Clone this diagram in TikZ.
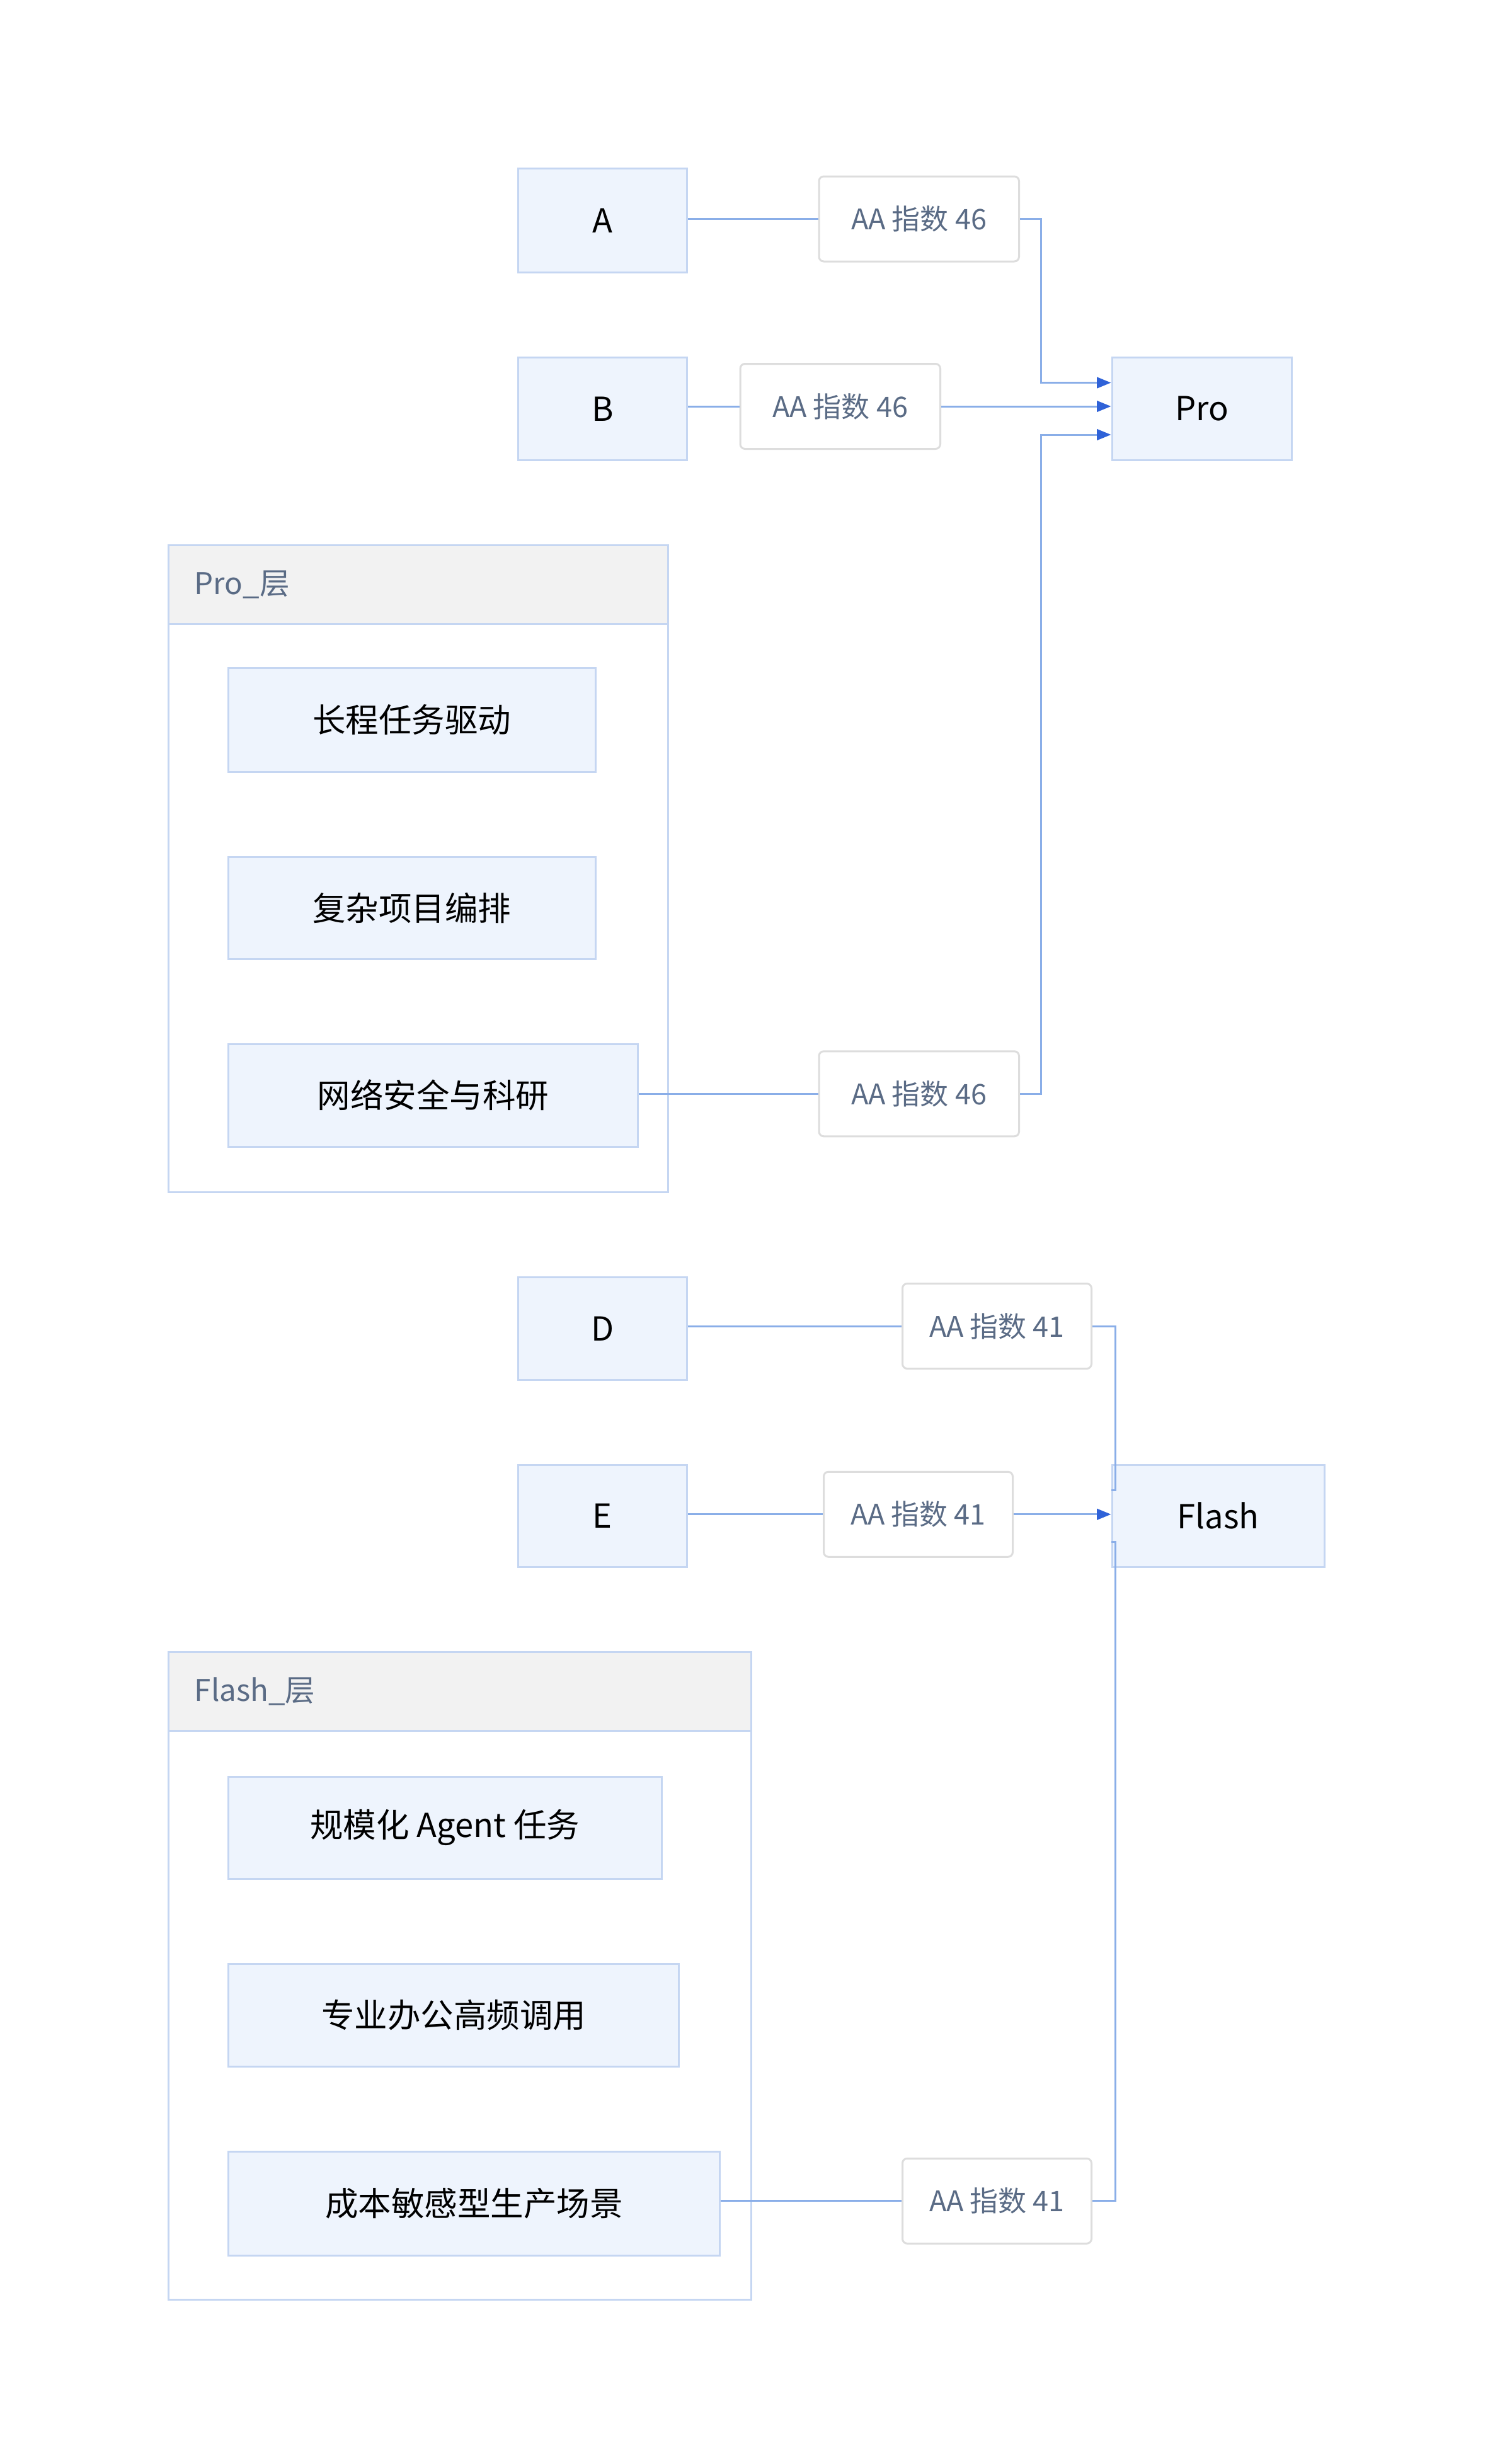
\documentclass[tikz,border=0pt]{standalone}
\usepackage{fontspec}
\setmainfont{Noto Sans CJK SC}
\usetikzlibrary{arrows.meta}
\definecolor{nfill}{HTML}{EEF4FD}
\definecolor{nline}{HTML}{C5D6F2}
\definecolor{eline}{HTML}{8AAEE8}
\definecolor{ahead}{HTML}{2F62D8}
\definecolor{lbl}{HTML}{5A6B85}
\definecolor{lbox}{HTML}{DDDDDD}
\definecolor{hdr}{HTML}{F2F2F2}
\begin{document}
\begin{tikzpicture}[x=1pt,y=-1pt,
  nd/.style={draw=nline,fill=nfill,line width=1.2pt,font=\fontsize{21}{24}\selectfont,text=black},
  lb/.style={draw=lbox,fill=white,rounded corners=3pt,line width=1.2pt,font=\fontsize{18}{22}\selectfont,text=lbl},
  ct/.style={draw=nline,fill=white,line width=1.2pt},
  hd/.style={draw=nline,fill=hdr,line width=1.2pt},
  ht/.style={font=\fontsize{19}{22}\selectfont,text=lbl,anchor=west},
  ed/.style={draw=eline,line width=1.2pt},
  ar/.style={ed,-{Triangle[length=9pt,width=7pt,fill=ahead,color=ahead]}}]
\useasboundingbox (0,0) rectangle (960,1548);
\fill[white] (0,0) rectangle (960,1548);
% containers
\draw[ct] (107,346) rectangle (424,757);
\draw[hd] (107,346) rectangle (424,396);
\node[ht] (proh) at (120,371) {Pro\_层};
\draw[ct] (107,1049) rectangle (477,1460);
\draw[hd] (107,1049) rectangle (477,1099);
\node[ht] (flh) at (120,1074) {Flash\_层};
% nodes
\newcommand\bx[6]{\node[nd,minimum width=#4pt,minimum height=#5pt,inner sep=0pt] (#1) at (#2,#3) {#6};}
\bx{A}{382.5}{140}{107}{66}{A}
\bx{B}{382.5}{259.5}{107}{65}{B}
\bx{Pro}{763}{259.5}{114}{65}{Pro}
\bx{p1}{261.5}{457}{233}{66}{长程任务驱动}
\bx{p2}{261.5}{576.5}{233}{65}{复杂项目编排}
\bx{p3}{275}{695.5}{260}{65}{网络安全与科研}
\bx{D}{382.5}{843.5}{107}{65}{D}
\bx{E}{382.5}{962.5}{107}{65}{E}
\bx{Fl}{773.5}{962.5}{135}{65}{Flash}
\bx{f1}{282.5}{1160.5}{275}{65}{规模化 Agent 任务}
\bx{f2}{288}{1279.5}{286}{65}{专业办公高频调用}
\bx{f3}{301}{1399}{312}{66}{成本敏感型生产场景}
% labels
\newcommand\lbx[5]{\node[lb,minimum width=#4pt,minimum height=54pt,inner sep=0pt] (#1) at (#2,#3) {#5};}
\lbx{l1}{583.5}{139}{127}{AA 指数 46}
\lbx{l2}{533.5}{258}{127}{AA 指数 46}
\lbx{l3}{583.5}{694.5}{127}{AA 指数 46}
\lbx{l4}{633}{842}{120}{AA 指数 41}
\lbx{l5}{583}{961.5}{120}{AA 指数 41}
\lbx{l6}{633}{1397.5}{120}{AA 指数 41}
% edges
\coordinate (c1) at (661,139);
\coordinate (c1b) at (661,243);
\coordinate (c3) at (661,694.5);
\coordinate (c3b) at (661,276);
\draw[ed] (A.east|-l1) -- (l1.west);
\draw[ar] (l1.east) -- (c1) -- (c1b) -- (Pro.west|-c1b);
\draw[ed] (B.east|-l2) -- (l2.west);
\draw[ar] (l2.east) -- (Pro.west|-l2);
\draw[ed] (p3.east|-l3) -- (l3.west);
\draw[ar] (l3.east) -- (c3) -- (c3b) -- (Pro.west|-c3b);
\coordinate (c4) at (708,842);
\coordinate (c4b) at (708,946);
\coordinate (c6) at (708,1397.5);
\coordinate (c6b) at (708,979);
\draw[ed] (D.east|-l4) -- (l4.west);
\draw[ed] (l4.east) -- (c4) -- (c4b) -- (Fl.west|-c4b);
\draw[ed] (E.east|-l5) -- (l5.west);
\draw[ar] (l5.east) -- (Fl.west|-l5);
\draw[ed] (f3.east|-l6) -- (l6.west);
\draw[ed] (l6.east) -- (c6) -- (c6b) -- (Fl.west|-c6b);
\end{tikzpicture}
\end{document}
